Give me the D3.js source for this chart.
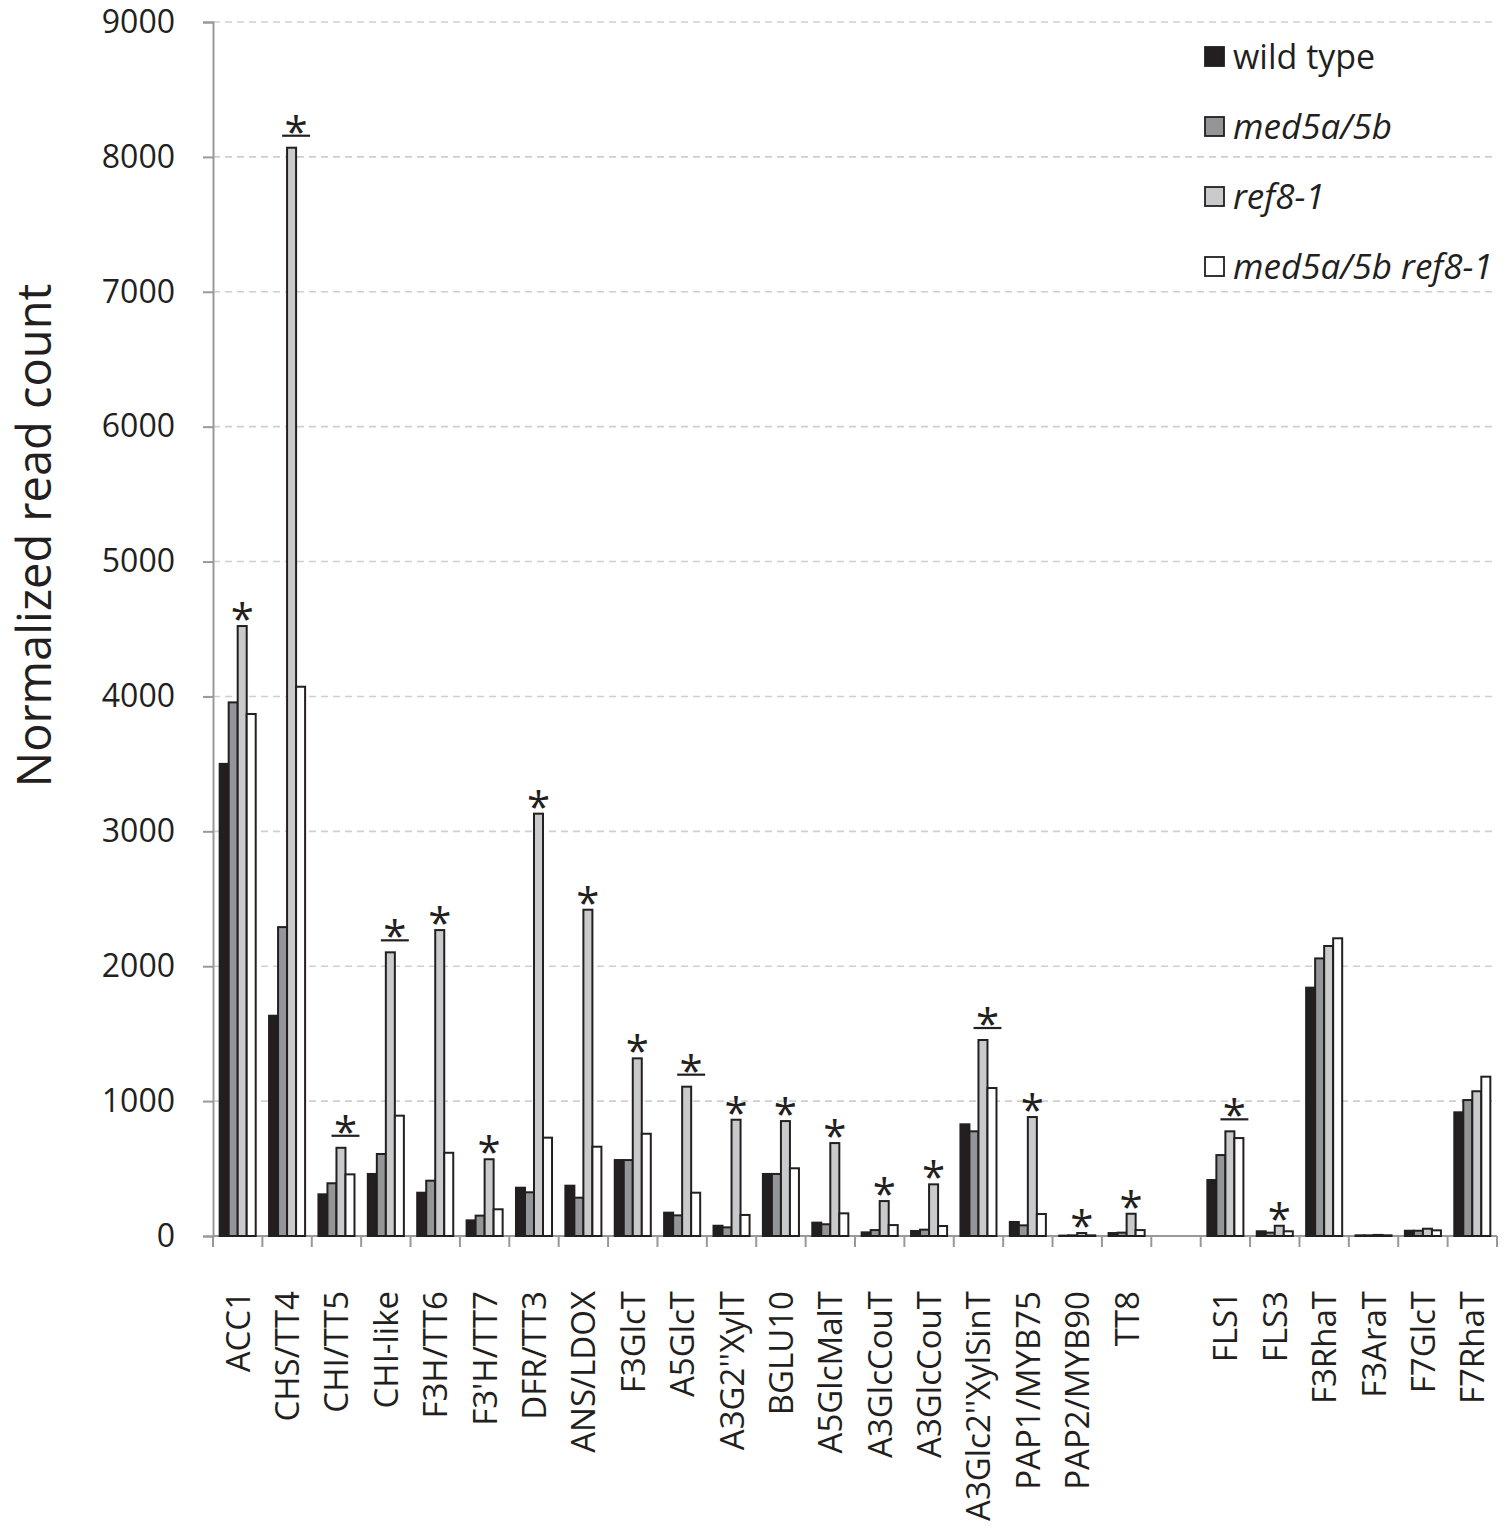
<!DOCTYPE html>
<html>
<head>
<meta charset="utf-8">
<script src="https://cdn.jsdelivr.net/npm/d3@7"></script>
<style>
  body { margin: 0; background: #fff; }
  svg text { font-family: "Open Sans", sans-serif; fill: #231f20; }
</style>
</head>
<body>
<div id="chart"></div>
<script>
// gene names, "" is the empty slot between TT8 and FLS1
let categories = ["ACC1", "CHS/TT4", "CHI/TT5", "CHI-like", "F3H/TT6", "F3'H/TT7", "DFR/TT3",
    "ANS/LDOX", "F3GlcT", "A5GlcT", "A3G2''XylT", "BGLU10", "A5GlcMalT", "A3GlcCouT", "A3GlcCouT",
    "A3Glc2''XylSinT", "PAP1/MYB75", "PAP2/MYB90", "TT8", "", "FLS1", "FLS3", "F3RhaT", "F3AraT",
    "F7GlcT", "F7RhaT"];

let wildType = [3500, 1633, 309, 460, 321, 116, 358, 373, 563, 173, 76, 460, 99, 27, 37,
    828, 104, 3, 22, null, 415, 35, 1841, 5, 39, 917];
let med5a5b = [3956, 2290, 391, 608, 410, 151, 324, 284, 563, 153, 64, 460, 87, 44, 47,
    776, 79, 5, 25, null, 600, 25, 2058, 5, 39, 1008];
let ref81 = [4522, 8068, 654, 2103, 2268, 569, 3131, 2419, 1317, 1107, 862, 852, 689, 259, 383,
    1453, 882, 22, 165, null, 776, 76, 2150, 8, 54, 1073];
let med5a5bRef81 = [3870, 4072, 457, 892, 617, 198, 729, 662, 758, 321, 156, 502, 168, 81, 74,
    1097, 163, 5, 44, null, 726, 35, 2207, 5, 42, 1181];

// 0 = nothing, 1 = asterisk, 2 = asterisk over a bar
let significance = [1, 2, 2, 2, 1, 1, 1, 1, 1, 2, 1, 1, 1, 1, 1, 2, 1, 1, 1, 0, 2, 1, 0, 0, 0, 0];

let seriesNames = ["wild type", "med5a/5b", "ref8-1", "med5a/5b ref8-1"];
let seriesItalic = [false, true, true, true];
let seriesColors = ["#231f20", "#939598", "#c9cacc", "#ffffff"];
let yTicks = [0, 1000, 2000, 3000, 4000, 5000, 6000, 7000, 8000, 9000];

let seriesValues = [wildType, med5a5b, ref81, med5a5bRef81];

let margin = {top: 22, right: 14, left: 213, bottom: 296};
let width = 1511 - margin.left - margin.right;
let height = 1532 - margin.top - margin.bottom;

let svg = d3.select("#chart")
    .append("svg")
    .attr("width", 1511)
    .attr("height", 1532);

let chart = svg.append("g")
    .attr("transform", "translate(" + margin.left + "," + margin.top + ")");

let xScale = d3.scaleBand()
    .domain(d3.range(categories.length))
    .range([0, width])
    .paddingInner(0.27)
    .paddingOuter(0.135);

let slot = width / categories.length;

let xSeries = d3.scaleBand()
    .domain(d3.range(seriesNames.length))
    .range([0, xScale.bandwidth()]);

let yScale = d3.scaleLinear().domain([0, 9000]).range([height, 0]);

// dashed grid lines
chart.append("g")
    .selectAll("line")
    .data(yTicks.filter(d => d > 0))
    .enter()
    .append("line")
    .attr("x1", 0)
    .attr("x2", width)
    .attr("y1", d => yScale(d))
    .attr("y2", d => yScale(d))
    .attr("stroke", "#cfcfcf")
    .attr("stroke-width", 1.6)
    .attr("stroke-dasharray", "7,5");

// y axis
let yAxis = d3.axisLeft(yScale).tickValues(yTicks).tickFormat(d3.format("d")).tickSize(10).tickPadding(28);
let yAxisG = chart.append("g").call(yAxis);
yAxisG.select(".domain").attr("stroke", "#999").attr("stroke-width", 2);
yAxisG.selectAll(".tick line").attr("stroke", "#999").attr("stroke-width", 2);
yAxisG.selectAll(".tick text")
    .attr("font-size", 32)
    .attr("font-family", "'Open Sans', sans-serif")
    .attr("fill", "#231f20");

// x axis line and ticks on slot edges
chart.append("line")
    .attr("x1", 0).attr("x2", width)
    .attr("y1", height).attr("y2", height)
    .attr("stroke", "#999").attr("stroke-width", 2);

chart.append("g")
    .selectAll("line")
    .data(d3.range(categories.length + 1))
    .enter()
    .append("line")
    .attr("x1", d => d * slot)
    .attr("x2", d => d * slot)
    .attr("y1", height)
    .attr("y2", height + 11)
    .attr("stroke", "#999")
    .attr("stroke-width", 2);

// bars
let groups = chart.selectAll(".group")
    .data(categories)
    .enter()
    .append("g")
    .attr("class", "group")
    .attr("transform", (d, i) => "translate(" + xScale(i) + ",0)");

groups.selectAll("rect")
    .data((d, i) => seriesValues.map((s, k) => ({k: k, v: s[i]})).filter(e => e.v !== null))
    .enter()
    .append("rect")
    .attr("x", d => xSeries(d.k))
    .attr("width", xSeries.bandwidth())
    .attr("y", d => yScale(d.v))
    .attr("height", d => height - yScale(d.v))
    .attr("fill", d => seriesColors[d.k])
    .attr("stroke", "#231f20")
    .attr("stroke-width", 2);

// significance marks
categories.forEach((c, i) => {
    if (significance[i] === 0) return;
    let top = yScale(ref81[i]);
    if (significance[i] === 1) {
        let cx = xScale(i) + xSeries(2) + xSeries.bandwidth() / 2;
        chart.append("text")
            .attr("x", cx)
            .attr("y", top + 8)
            .attr("text-anchor", "middle")
            .attr("font-size", 42)
            .text("*");
    } else {
        let cx = xScale(i) + xSeries(3);
        let lineY = top - 12;
        chart.append("line")
            .attr("x1", cx - xSeries.bandwidth() * 1.55)
            .attr("x2", cx + xSeries.bandwidth() * 1.55)
            .attr("y1", lineY)
            .attr("y2", lineY)
            .attr("stroke", "#231f20")
            .attr("stroke-width", 2.2);
        chart.append("text")
            .attr("x", cx)
            .attr("y", lineY + 11)
            .attr("text-anchor", "middle")
            .attr("font-size", 42)
            .text("*");
    }
});

// category labels, rotated
chart.append("g")
    .selectAll("text")
    .data(categories)
    .enter()
    .append("text")
    .attr("transform", (d, i) => "translate(" + (xScale(i) + xScale.bandwidth() / 2 + 12) + "," + (height + 55) + ") rotate(-90)")
    .attr("text-anchor", "end")
    .attr("font-size", 33)
    .text(d => d);

// y axis title
svg.append("text")
    .attr("transform", "translate(51," + (margin.top + height * 0.423) + ") rotate(-90)")
    .attr("text-anchor", "middle")
    .attr("font-size", 47)
    .text("Normalized read count");

// legend
let legend = svg.append("g")
    .selectAll("g")
    .data(seriesNames)
    .enter()
    .append("g")
    .attr("transform", (d, i) => "translate(1205," + (57 + i * 70) + ")");

legend.append("rect")
    .attr("x", 0)
    .attr("y", -10)
    .attr("width", 19)
    .attr("height", 19)
    .attr("fill", (d, i) => seriesColors[i])
    .attr("stroke", "#231f20")
    .attr("stroke-width", 1.8);

legend.append("text")
    .attr("x", 28)
    .attr("y", 12)
    .attr("font-size", (d, i) => seriesItalic[i] ? 35 : 34)
    .attr("font-style", (d, i) => seriesItalic[i] ? "italic" : "normal")
    .text(d => d);
</script>
</body>
</html>
